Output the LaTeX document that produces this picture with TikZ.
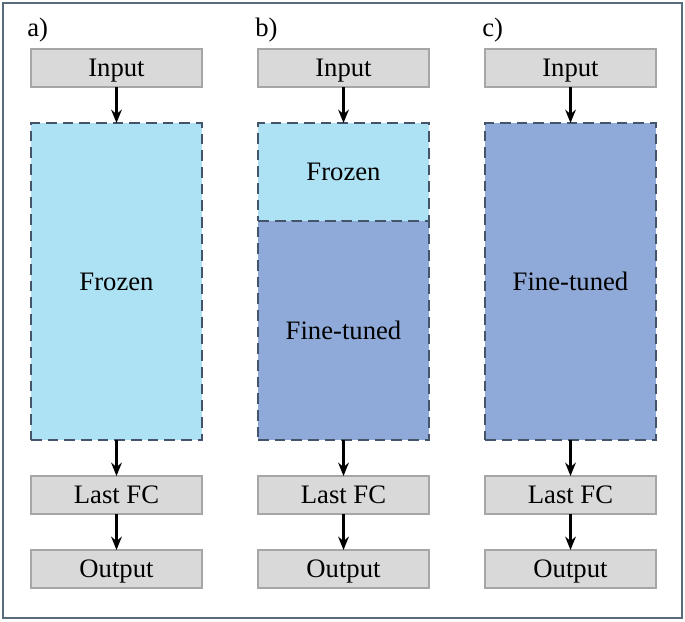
\documentclass[tikz,border=0pt]{standalone}
\usepackage{fontspec}
\setmainfont{Liberation Serif}
\usetikzlibrary{arrows.meta, positioning}

\definecolor{frozenblue}{HTML}{ADE1F4}
\definecolor{tunedblue}{HTML}{8FAAD9}
\definecolor{boxgray}{HTML}{D9D9D9}
\definecolor{boxedge}{HTML}{A6A6A6}
\definecolor{dashedge}{HTML}{44546A}
\definecolor{frameedge}{HTML}{5B6B7E}

\begin{document}
\begin{tikzpicture}[x=0.75pt, y=-0.75pt,
        box/.style={rectangle, draw=boxedge, fill=boxgray, line width=0.8pt, minimum height=28.5pt, minimum width=128.25pt, inner sep=0pt, outer sep=0pt, text height=18pt, text depth=5pt, font=\fontsize{20}{24}\selectfont},
        frozen/.style={rectangle, draw=dashedge, fill=frozenblue, dash pattern=on 8pt off 4.5pt, line width=1.1pt, minimum width=128.25pt, inner sep=0pt, outer sep=0pt, text height=18pt, text depth=5pt, font=\fontsize{20}{24}\selectfont},
        tuned/.style={frozen, fill=tunedblue},
        tag/.style={anchor=west, inner sep=0pt, font=\fontsize{20}{24}\selectfont},
        arrow/.style={-{Stealth[length=10pt, width=8pt]}, line width=1.6pt},
        node distance=27pt
    ]
        \useasboundingbox (0,0) rectangle (685,621);
        \draw[frameedge, line width=1.5pt] (3,3) rectangle (682,618);

        % a) all layers frozen
        \node[tag] (taga) at (27,30) {a)};
        \node[box] (inputa) at (116.5,68) {Input};
        \node[frozen, minimum height=237.75pt, below=of inputa] (froza) {Frozen};
        \node[box, below=of froza] (fca) {Last FC};
        \node[box, below=of fca] (outa) {Output};

        % b) partly fine-tuned
        \node[tag] (tagb) at (255,30) {b)};
        \node[box] (inputb) at (343.5,68) {Input};
        \node[frozen, minimum height=73.5pt, below=of inputb] (frozb) {Frozen};
        \node[tuned, minimum height=164.25pt, below=0pt of frozb] (tuneb) {Fine-tuned};
        \node[box, below=of tuneb] (fcb) {Last FC};
        \node[box, below=of fcb] (outb) {Output};

        % c) all layers fine-tuned
        \node[tag] (tagc) at (482,30) {c)};
        \node[box] (inputc) at (570.5,68) {Input};
        \node[tuned, minimum height=237.75pt, below=of inputc] (tunec) {Fine-tuned};
        \node[box, below=of tunec] (fcc) {Last FC};
        \node[box, below=of fcc] (outc) {Output};

        % Arrows
        \draw[arrow] (inputa) -- (froza);
        \draw[arrow] (froza) -- (fca);
        \draw[arrow] (fca) -- (outa);
        \draw[arrow] (inputb) -- (frozb);
        \draw[arrow] (tuneb) -- (fcb);
        \draw[arrow] (fcb) -- (outb);
        \draw[arrow] (inputc) -- (tunec);
        \draw[arrow] (tunec) -- (fcc);
        \draw[arrow] (fcc) -- (outc);
    \end{tikzpicture}
\end{document}
